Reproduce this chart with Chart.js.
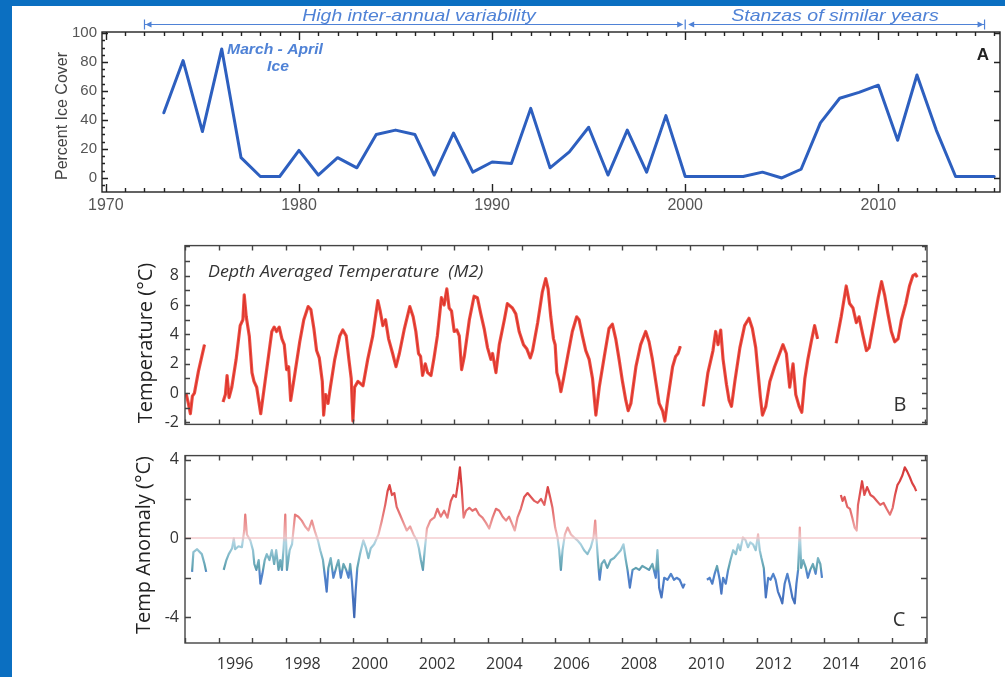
<!DOCTYPE html>
<html>
<head>
<meta charset="utf-8">
<script src="https://cdn.jsdelivr.net/npm/chart.js@4.4.0/dist/chart.umd.min.js"></script>
<style>
  html, body { margin: 0; padding: 0; }
  body { width: 1005px; height: 677px; background: #0b6fc1; position: relative; overflow: hidden; }
  #sheet { position: absolute; left: 12px; top: 6px; right: 0; bottom: 0; background: #ffffff; }
  canvas { position: absolute; left: 0; }
</style>
</head>
<body>
<div id="sheet"></div>
<canvas id="iceChart" width="1005" height="215" style="top:0px"></canvas>
<canvas id="tempChart" width="1005" height="210" style="top:230px"></canvas>
<canvas id="anomChart" width="1005" height="237" style="top:440px"></canvas>
<script>
// ---- A: March-April ice cover (%) ----
const iceYears = [1973,1974,1975,1976,1977,1978,1979,1980,1981,1982,1983,1984,1985,1986,1987,1988,1989,1990,
  1991,1992,1993,1994,1995,1996,1997,1998,1999,2000,2001,2002,2003,2004,2005,2006,2007,2008,2009,2010,
  2011,2012,2013,2014,2015,2016];
const iceCover = [45,81,32,89,14,1,1,19,2,14,7,30,33,30,2,31,4,11,
  10,48,7,18,35,2,33,4,43,1,1,1,1,4,0,6,38,55,59,64,
  26,71,33,1,1,1];
const iceYTicks = [0, 20, 40, 60, 80, 100];
const iceXTicks = [1970, 1980, 1990, 2000, 2010];

// ---- B: depth averaged temperature at M2 (°C); null marks a gap in the record ----
const tempT = [1995.03,1995.10,1995.16,1995.22,1995.28,1995.40,1995.50,1995.58,1995.85,
  1996.13,1996.20,1996.25,1996.31,1996.39,1996.52,1996.64,1996.72,1996.76,1996.82,1996.91,1996.99,
  1997.05,1997.13,1997.25,1997.38,1997.48,1997.58,1997.65,1997.72,1997.80,1997.88,1997.95,
  1998.02,1998.08,1998.14,1998.27,1998.41,1998.53,1998.66,1998.74,1998.83,1998.91,1998.99,
  1999.08,1999.12,1999.18,1999.25,1999.32,1999.45,1999.60,1999.69,1999.79,1999.87,1999.94,1999.99,
  2000.04,2000.14,2000.29,2000.43,2000.58,2000.73,2000.80,2000.88,2000.96,
  2001.05,2001.17,2001.27,2001.37,2001.52,2001.68,2001.78,2001.86,2001.94,
  2002.00,2002.06,2002.14,2002.21,2002.31,2002.40,2002.50,2002.62,2002.70,2002.78,2002.85,2002.92,
  2003.00,2003.08,2003.15,2003.22,2003.30,2003.45,2003.59,2003.69,2003.79,2003.89,2003.99,
  2004.09,2004.14,2004.24,2004.34,2004.49,2004.58,2004.73,2004.83,2004.93,
  2005.06,2005.16,2005.26,2005.33,2005.48,2005.62,2005.72,2005.79,2005.87,2005.95,
  2006.00,2006.05,2006.12,2006.17,2006.25,2006.37,2006.51,2006.64,2006.71,2006.81,2006.91,
  2007.01,2007.11,2007.21,2007.31,2007.46,2007.60,2007.70,2007.80,2007.90,
  2008.00,2008.10,2008.17,2008.25,2008.40,2008.54,2008.69,2008.79,2008.89,2008.99,
  2009.09,2009.19,2009.26,2009.34,2009.49,2009.58,2009.65,2009.72,2010.00,
  2010.40,2010.54,2010.69,2010.77,2010.84,2010.92,2010.99,
  2011.09,2011.17,2011.24,2011.34,2011.49,2011.63,2011.76,2011.86,2011.96,
  2012.03,2012.10,2012.16,2012.26,2012.38,2012.52,2012.67,2012.77,2012.87,2012.97,
  2013.07,2013.15,2013.25,2013.33,2013.42,2013.51,2013.61,2013.71,2013.80,2014.00,
  2014.35,2014.50,2014.65,2014.75,2014.85,2014.95,2015.03,2015.15,2015.25,2015.33,2015.45,
  2015.60,2015.70,2015.79,2015.89,2015.99,2016.09,2016.19,2016.29,2016.42,2016.53,2016.63,2016.71,2016.76];
const tempC = [0.0,-0.7,-1.4,-0.2,0.0,1.5,2.5,3.3,null,
  -0.6,-0.1,1.2,-0.3,0.4,2.3,4.6,5.0,6.7,5.2,3.9,1.4,
  0.8,0.4,-1.4,0.8,2.5,4.2,4.5,4.2,4.5,3.7,3.3,
  1.6,1.8,-0.5,1.4,3.5,5.0,5.9,5.7,4.4,2.9,2.4,
  0.8,-1.5,-0.1,-0.7,0.4,2.3,3.9,4.3,3.9,2.3,1.0,-1.9,
  0.4,0.8,0.5,2.3,3.9,6.3,5.6,4.6,5.0,
  3.7,2.7,1.8,2.7,4.4,5.9,5.2,4.2,2.7,
  2.5,1.2,2.0,1.4,1.2,2.4,3.9,6.5,6.0,7.1,5.8,5.6,
  4.2,4.3,3.9,1.6,2.5,5.0,6.6,6.5,5.4,4.4,3.1,
  2.3,2.7,1.4,3.3,5.0,6.1,5.8,5.4,4.2,
  3.3,3.0,2.4,2.9,4.8,6.9,7.8,7.1,5.2,3.7,
  3.3,1.4,0.8,0.1,1.0,2.5,4.2,5.2,5.0,3.9,2.9,
  2.3,1.0,-1.5,0.4,2.5,4.4,4.7,3.7,2.3,
  0.8,-0.5,-1.2,-0.7,1.8,3.3,4.2,3.5,2.3,0.8,
  -0.7,-1.2,-1.9,-0.5,1.8,2.5,2.7,3.2,null,
  -0.9,1.4,2.9,4.2,3.3,4.3,2.3,
  0.6,-0.5,-0.9,0.8,3.1,4.6,5.1,4.4,3.1,
  1.4,-0.3,-1.5,-0.9,0.8,1.8,2.7,3.3,2.7,0.4,
  2.0,-0.1,-0.9,-1.3,1.0,2.3,3.5,4.6,3.7,null,
  3.4,5.2,7.3,6.1,5.8,4.8,5.2,3.9,2.9,3.1,4.6,
  6.5,7.6,6.7,5.4,4.2,3.5,3.7,5.0,6.1,7.3,8.0,8.1,7.9];
const tempYTicks = [-2, 0, 2, 4, 6, 8];

// ---- C: temperature anomaly (°C); null marks a gap in the record ----
const anomT = [1995.21,1995.25,1995.36,1995.50,1995.58,1995.63,1995.90,
  1996.15,1996.23,1996.30,1996.40,1996.45,1996.49,1996.59,1996.69,1996.76,1996.79,1996.84,1996.94,
  1997.02,1997.06,1997.12,1997.19,1997.24,1997.30,1997.37,1997.43,1997.51,1997.58,1997.65,1997.71,
  1997.78,1997.83,1997.88,1997.93,1997.98,1998.03,1998.11,1998.18,1998.27,1998.37,1998.47,1998.57,
  1998.67,1998.77,1998.87,1998.95,1999.02,1999.10,1999.17,1999.21,1999.26,1999.33,1999.41,1999.49,
  1999.56,1999.63,1999.71,1999.79,1999.86,1999.91,1999.96,2000.03,2000.07,2000.12,2000.20,2000.30,
  2000.38,2000.45,2000.52,2000.62,2000.75,2000.85,2000.95,2001.02,2001.08,2001.15,2001.22,2001.29,
  2001.39,2001.49,2001.59,2001.69,2001.79,2001.89,2001.95,2002.01,2002.07,2002.13,2002.19,2002.29,
  2002.36,2002.41,2002.50,2002.60,2002.70,2002.80,2002.90,2002.98,2003.05,2003.12,2003.17,2003.22,
  2003.28,2003.35,2003.45,2003.54,2003.64,2003.74,2003.84,2003.94,2004.04,2004.14,2004.24,2004.34,
  2004.44,2004.54,2004.63,2004.73,2004.80,2004.88,2004.98,2005.08,2005.18,2005.28,2005.38,2005.48,
  2005.58,2005.68,2005.78,2005.85,2005.92,2006.00,2006.07,2006.12,2006.17,2006.22,2006.29,2006.37,
  2006.47,2006.56,2006.66,2006.76,2006.86,2006.96,2007.06,2007.14,2007.19,2007.24,2007.28,2007.32,
  2007.38,2007.46,2007.55,2007.65,2007.75,2007.85,2007.95,2008.03,2008.10,2008.15,2008.22,2008.30,
  2008.40,2008.50,2008.59,2008.69,2008.79,2008.89,2008.99,2009.04,2009.09,2009.16,2009.24,2009.34,
  2009.44,2009.53,2009.61,2009.70,2009.80,2009.85,2010.10,
  2010.51,2010.59,2010.67,2010.74,2010.81,2010.89,2010.94,2010.99,2011.07,2011.14,2011.21,2011.29,
  2011.37,2011.44,2011.50,2011.58,2011.66,2011.73,2011.80,2011.88,2011.96,2012.03,2012.08,2012.13,
  2012.20,2012.26,2012.33,2012.40,2012.48,2012.55,2012.62,2012.69,2012.75,2012.82,2012.90,2012.97,
  2013.05,2013.12,2013.17,2013.22,2013.27,2013.31,2013.37,2013.45,2013.51,2013.58,2013.66,2013.74,
  2013.81,2013.88,2013.93,2014.20,
  2014.49,2014.54,2014.60,2014.68,2014.76,2014.83,2014.90,2014.96,2015.00,2015.07,2015.12,2015.19,
  2015.27,2015.37,2015.46,2015.56,2015.66,2015.76,2015.85,2015.95,2016.03,2016.10,2016.17,2016.24,
  2016.32,2016.39,2016.46,2016.54,2016.61,2016.68,2016.73];
const anomC = [-1.7,-0.7,-0.55,-0.8,-1.3,-1.7,null,
  -1.6,-1.1,-0.8,-0.5,0.0,-0.55,-0.4,-0.45,0.4,1.2,0.2,-0.1,
  -0.6,-1.3,-1.6,-1.1,-2.3,-1.8,-1.1,-0.8,-1.1,-0.6,-1.3,-0.6,
  -1.6,-1.1,-1.6,-0.5,1.2,-1.6,-0.6,-0.3,1.2,1.1,0.9,0.6,
  0.4,0.9,0.3,-0.1,-0.6,-1.1,-2.1,-2.7,-1.5,-1.0,-2.0,-1.5,
  -1.1,-2.0,-1.3,-1.6,-2.0,-1.3,-2.2,-4.0,-2.7,-1.5,-0.8,-0.1,
  -0.5,-1.0,-0.5,-0.3,0.2,0.9,1.7,2.4,2.7,2.2,2.3,1.6,
  1.2,0.8,0.4,0.6,0.2,-0.1,-0.5,-1.1,-1.6,-0.5,0.5,0.9,
  1.0,1.05,1.5,1.1,1.4,1.05,1.9,2.2,2.1,2.9,3.6,2.6,
  1.05,1.4,1.55,1.4,1.5,1.2,1.05,0.8,0.5,1.05,1.5,1.4,
  1.1,0.9,1.1,0.7,0.4,1.05,1.5,2.1,2.3,2.1,1.9,1.8,
  2.0,1.7,2.6,2.1,1.55,0.55,0.05,-0.6,-1.6,-0.6,0.2,0.55,
  0.2,0.05,-0.1,-0.3,-0.6,-0.8,-0.45,0.05,0.9,-0.3,-1.3,-2.1,
  -1.3,-1.1,-1.5,-1.1,-1.0,-0.8,-0.6,-0.3,-1.1,-1.6,-2.5,-1.6,
  -1.5,-1.6,-1.4,-1.5,-1.6,-1.3,-2.0,-0.6,-2.5,-3.0,-2.0,-2.1,
  -1.8,-2.1,-2.0,-2.1,-2.5,-2.3,null,
  -2.1,-2.0,-2.3,-1.8,-1.4,-2.1,-2.8,-2.0,-2.3,-1.6,-1.1,-0.6,
  -0.8,-0.3,-0.6,0.05,-0.1,-0.45,-0.2,-0.3,-0.6,0.2,-0.6,-1.0,
  -1.5,-3.0,-2.0,-2.1,-1.8,-2.1,-2.7,-3.0,-3.3,-2.3,-1.8,-2.3,
  -3.0,-3.3,-2.3,-1.6,0.55,-1.5,-1.1,-1.5,-2.0,-1.6,-1.3,-1.8,
  -1.0,-1.3,-2.0,null,
  2.2,1.9,2.1,1.6,1.5,1.05,0.55,0.4,1.7,2.4,2.9,2.2,
  2.6,2.2,2.1,1.9,1.7,1.8,1.5,1.2,1.55,2.2,2.7,2.9,
  3.2,3.6,3.4,3.1,2.8,2.6,2.4];
const anomYTicks = [-4, 0, 4];
const bcXTicks = [1996, 1998, 2000, 2002, 2004, 2006, 2008, 2010, 2012, 2014, 2016];

// colour ramp for the anomaly trace, keyed by anomaly value
const anomalyRamp = [
  [4.0, '#d23434'], [2.5, '#dc4646'], [1.2, '#e67878'], [0.4, '#eeaaaa'], [0.05, '#ecc4c6'],
  [-0.2, '#aed4e2'], [-0.9, '#7fb8c8'], [-1.55, '#5d9fae'], [-1.7, '#5386cc'], [-2.6, '#4a78c4'],
  [-4.0, '#3d66b2']
];

const pts = (xs, ys) => xs.map((x, i) => ({ x: x, y: ys[i] }));
const only = list => v => (list.includes(v) ? String(v) : '');

// inward tick marks on all four sides plus the frame, placed through the chart's scales
function frameTicks(spec) {
  return {
    id: 'frameTicks',
    afterDatasetsDraw(chart) {
      const { ctx, chartArea: a, scales: { x, y } } = chart;
      ctx.save();
      ctx.strokeStyle = spec.color;
      ctx.lineWidth = spec.width;
      ctx.beginPath();
      const marks = (scale, specs, cb) => {
        for (const s of specs) {
          const k0 = Math.ceil(scale.min / s.step - 1e-9), k1 = Math.floor(scale.max / s.step + 1e-9);
          for (let k = k0; k <= k1; k++) cb(Math.round(scale.getPixelForValue(k * s.step)) + 0.5, s.len);
        }
      };
      marks(x, spec.x, (px, len) => {
        ctx.moveTo(px, a.bottom); ctx.lineTo(px, a.bottom - len);
        ctx.moveTo(px, a.top); ctx.lineTo(px, a.top + len);
      });
      marks(y, spec.left, (py, len) => { ctx.moveTo(a.left, py); ctx.lineTo(a.left + len, py); });
      marks(y, spec.right, (py, len) => { ctx.moveTo(a.right, py); ctx.lineTo(a.right - len, py); });
      ctx.stroke();
      ctx.strokeRect(a.left, a.top, a.right - a.left, a.bottom - a.top);
      ctx.restore();
    }
  };
}

// centred text; sx widens the glyphs horizontally
function text(ctx, str, x, y, font, color, align, rot, sx) {
  ctx.save();
  ctx.font = font;
  ctx.fillStyle = color;
  ctx.textAlign = align || 'center';
  ctx.textBaseline = 'middle';
  ctx.translate(x, y);
  if (rot) ctx.rotate(rot);
  if (sx) ctx.scale(sx, 1);
  ctx.fillText(str, 0, 0);
  ctx.restore();
}

const noAnim = { animation: false, responsive: false, maintainAspectRatio: false, events: [] };
const quiet = { legend: { display: false }, tooltip: { enabled: false } };

// ---------------- Panel A ----------------
const SANS = "'Liberation Sans', Arial, sans-serif";
const noteBlue = '#4f82d6';

const iceNotes = {
  id: 'iceNotes',
  afterDraw(chart) {
    const { ctx, scales: { x } } = chart;
    const yLine = 24.5;
    const x0 = x.getPixelForValue(1972), xm = x.getPixelForValue(2000), x1 = x.getPixelForValue(2015.5);
    ctx.save();
    ctx.strokeStyle = noteBlue; ctx.fillStyle = noteBlue; ctx.lineWidth = 1.2;
    ctx.beginPath();
    ctx.moveTo(x0, yLine); ctx.lineTo(xm - 3, yLine);
    ctx.moveTo(xm + 4, yLine); ctx.lineTo(x1, yLine);
    [x0, xm, x1].forEach(px => { ctx.moveTo(px, yLine - 5); ctx.lineTo(px, yLine + 5); });
    ctx.stroke();
    const head = (tip, dir) => {
      ctx.beginPath();
      ctx.moveTo(tip, yLine); ctx.lineTo(tip - dir * 6, yLine - 3); ctx.lineTo(tip - dir * 6, yLine + 3);
      ctx.closePath(); ctx.fill();
    };
    head(x0 + 1, -1); head(xm - 2, 1); head(xm + 3, -1); head(x1 - 1, 1);
    ctx.restore();
    text(ctx, 'High inter-annual variability', 419, 16, 'italic 17px ' + SANS, noteBlue, 'center', 0, 1.14);
    text(ctx, 'Stanzas of similar years', 835, 16, 'italic 17px ' + SANS, noteBlue, 'center', 0, 1.15);
    text(ctx, 'March - April', 275, 50, 'italic bold 14px ' + SANS, noteBlue, 'center', 0, 1.12);
    text(ctx, 'Ice', 278, 67, 'italic bold 14px ' + SANS, noteBlue, 'center', 0, 1.12);
    text(ctx, 'A', 983, 55, 'bold 17px ' + SANS, '#222');
    text(ctx, 'Percent Ice Cover', 63, 116, '16px ' + SANS, '#444', 'center', -Math.PI / 2);
  }
};

new Chart(document.getElementById('iceChart'), {
  type: 'line',
  data: {
    datasets: [{
      data: pts(iceYears, iceCover),
      borderColor: '#2d5fbf', borderWidth: 3, pointRadius: 0, tension: 0,
      borderJoinStyle: 'round', borderCapStyle: 'round'
    }]
  },
  options: {
    ...noAnim,
    layout: { padding: { left: 0, top: 32, right: 5, bottom: 0 } },
    plugins: quiet,
    scales: {
      x: {
        type: 'linear', min: 1969.8, max: 2016.3,
        grid: { display: false, drawTicks: false }, border: { display: false },
        ticks: { stepSize: 10, includeBounds: false, autoSkip: false, maxRotation: 0, padding: 4,
                 color: '#555', font: { family: SANS, size: 16 }, callback: only(iceXTicks) },
        afterFit(s) { s.height = 23; }
      },
      y: {
        min: -9.7, max: 100.7,
        grid: { display: false, drawTicks: false }, border: { display: false },
        ticks: { stepSize: 20, includeBounds: false, padding: 5,
                 color: '#555', font: { family: SANS, size: 15 }, callback: only(iceYTicks) },
        afterFit(s) { s.width = 102; }
      }
    }
  },
  plugins: [
    frameTicks({ color: '#222', width: 1.4,
      x: [{ step: 1, len: 4 }, { step: 10, len: 8 }],
      left: [{ step: 5, len: 3 }, { step: 20, len: 6 }],
      right: [{ step: 20, len: 6 }] }),
    iceNotes
  ]
});

// ---------------- Panels B and C ----------------
const BC_FONT = "'Open Sans', 'DejaVu Sans', sans-serif";
const X_MIN = 1995.0, X_MAX = 2017.05;

const tempNotes = {
  id: 'tempNotes',
  afterDraw(chart) {
    const ctx = chart.ctx;
    text(ctx, 'Depth Averaged Temperature  (M2)', 208, 42, 'italic 17px ' + BC_FONT, '#333', 'left', 0, 1.05);
    text(ctx, 'B', 900, 175, '20px ' + BC_FONT, '#333');
    text(ctx, 'Temperature (°C)', 146, 113, '20px ' + BC_FONT, '#222', 'center', -Math.PI / 2);
  }
};

new Chart(document.getElementById('tempChart'), {
  type: 'line',
  data: {
    datasets: [
      { data: pts(tempT, tempC), borderColor: 'rgba(232,50,38,0.85)', borderWidth: 3.2,
        pointRadius: 0, tension: 0, spanGaps: false, borderJoinStyle: 'round' },
      { data: pts(tempT, tempC), borderColor: '#a2343f', borderWidth: 1.1,
        pointRadius: 0, tension: 0, spanGaps: false, borderJoinStyle: 'round' }
    ]
  },
  options: {
    ...noAnim,
    layout: { padding: { left: 0, top: 12, right: 78, bottom: 0 } },
    plugins: quiet,
    scales: {
      x: {
        type: 'linear', min: X_MIN, max: X_MAX,
        grid: { display: false, drawTicks: false }, border: { display: false },
        ticks: { display: false },
        afterFit(s) { s.height = 8; }
      },
      y: {
        min: -2.13, max: 10.05,
        grid: { display: false, drawTicks: false }, border: { display: false },
        ticks: { stepSize: 2, includeBounds: false, padding: 6,
                 color: '#333', font: { family: BC_FONT, size: 16 }, callback: only(tempYTicks) },
        afterFit(s) { s.width = 185; }
      }
    }
  },
  plugins: [
    frameTicks({ color: '#444', width: 1.4,
      x: [{ step: 1, len: 5 }], left: [{ step: 1, len: 5 }], right: [{ step: 1, len: 5 }] }),
    tempNotes
  ]
});

function anomalyGradient(context) {
  const { chart } = context;
  const { ctx, chartArea, scales } = chart;
  if (!chartArea) return '#888888';
  const ys = scales.y;
  const top = ys.getPixelForValue(4), bot = ys.getPixelForValue(-4);
  const g = ctx.createLinearGradient(0, top, 0, bot);
  anomalyRamp.forEach(([v, c]) => g.addColorStop((4 - v) / 8, c));
  return g;
}

const anomNotes = {
  id: 'anomNotes',
  afterDraw(chart) {
    const ctx = chart.ctx;
    text(ctx, 'C', 899, 180, '20px ' + BC_FONT, '#333');
    text(ctx, 'Temp Anomaly (°C)', 144, 105, '20px ' + BC_FONT, '#222', 'center', -Math.PI / 2);
  }
};

new Chart(document.getElementById('anomChart'), {
  type: 'line',
  data: {
    datasets: [{
      data: pts(anomT, anomC), borderColor: anomalyGradient, borderWidth: 2.2,
      pointRadius: 0, tension: 0, spanGaps: false, borderJoinStyle: 'round'
    }]
  },
  options: {
    ...noAnim,
    layout: { padding: { left: 0, top: 14, right: 78, bottom: 0 } },
    plugins: quiet,
    scales: {
      x: {
        type: 'linear', min: X_MIN, max: X_MAX,
        grid: { display: false, drawTicks: false }, border: { display: false },
        ticks: { stepSize: 2, includeBounds: false, autoSkip: false, maxRotation: 0, minRotation: 0,
                 padding: 12, labelOffset: 16.5,
                 color: '#333', font: { family: BC_FONT, size: 16 }, callback: only(bcXTicks) },
        afterFit(s) { s.height = 34; }
      },
      y: {
        min: -5.31, max: 4.2,
        grid: {
          drawTicks: false, lineWidth: 2,
          color: c => (c.tick && c.tick.value === 0 ? 'rgba(240,186,190,0.55)' : 'rgba(0,0,0,0)')
        },
        border: { display: false },
        ticks: { stepSize: 4, includeBounds: false, padding: 6,
                 color: '#333', font: { family: BC_FONT, size: 16 }, callback: only(anomYTicks) },
        afterFit(s) { s.width = 185; }
      }
    }
  },
  plugins: [
    frameTicks({ color: '#444', width: 1.4,
      x: [{ step: 1, len: 5 }], left: [{ step: 2, len: 6 }], right: [{ step: 2, len: 6 }] }),
    anomNotes
  ]
});
</script>
</body>
</html>
